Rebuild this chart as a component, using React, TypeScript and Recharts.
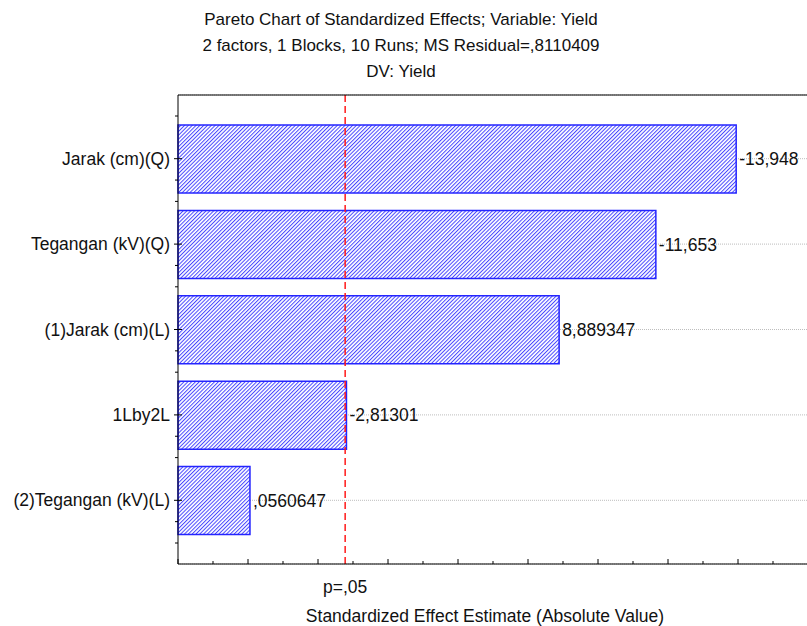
import React from "react";
import {
  Bar,
  BarChart,
  CartesianGrid,
  LabelList,
  ReferenceLine,
  XAxis,
  YAxis,
} from "recharts";

const factors = [
  "Jarak (cm)(Q)",
  "Tegangan (kV)(Q)",
  "(1)Jarak (cm)(L)",
  "1Lby2L",
  "(2)Tegangan (kV)(L)",
];
const effects = [-13.948, -11.653, 8.889347, -2.81301, 0.0560647];
const effectLabels = ["-13,948", "-11,653", "8,889347", "-2,81301", ",0560647"];
const xTicks = [-2, -1, 0, 1, 2, 3, 4, 5, 6, 7, 8, 9, 10, 11, 12, 13, 14, 15, 16];
const axisMin = -2;
const axisMax = 16;
const pCritical = 2.776;
const pLabel = "p=,05";
const titleLines = [
  "Pareto Chart of Standardized Effects; Variable: Yield",
  "2 factors, 1 Blocks, 10 Runs; MS Residual=,8110409",
  "DV: Yield",
];
const xTitle = "Standardized Effect Estimate (Absolute Value)";

const FONT = "'Liberation Sans', Arial, sans-serif";
const BLUE = "#2424ff";
const HATCH = "#4646ff";
const FS = 17.5;

const data = factors.map((name, i) => ({
  name,
  range: [axisMin, Math.abs(effects[i])],
  label: effectLabels[i],
}));

const XTick = (props: any) => {
  const { x, y, payload, orientation } = props;
  const len = payload.value % 2 === 0 ? 5 : 3;
  const dir = orientation === "top" ? 1 : -1;
  return <line x1={x} x2={x} y1={y} y2={y + dir * len} stroke="#000" strokeWidth={1} />;
};

const YTick = (props: any) => {
  const { x, y, payload, index } = props;
  const half = 42.7;
  const offs = [-half, half / 2];
  if (index === factors.length - 1) offs.push(half);
  return (
    <g>
      <line x1={x - 4} x2={x + 4} y1={y} y2={y} stroke="#000" />
      {offs.map((o) => (
        <line key={o} x1={x - 3} x2={x} y1={y + o} y2={y + o} stroke="#000" />
      ))}
      <text
        x={x - 8}
        y={y}
        textAnchor="end"
        dominantBaseline="central"
        fontSize={FS}
        fontFamily={FONT}
        fill="#111"
      >
        {payload.value}
      </text>
    </g>
  );
};

const RightTick = (props: any) => {
  const { x, y } = props;
  return <line x1={x - 4} x2={x} y1={y} y2={y} stroke="#000" />;
};

export default function App() {
  return (
    <div
      style={{
        position: "absolute",
        left: 0,
        top: 0,
        width: 807,
        height: 626,
        overflow: "hidden",
        background: "#fff",
      }}
    >
      <BarChart
        width={808}
        height={626}
        data={data}
        layout="vertical"
        margin={{ top: 94, right: 0, bottom: 61, left: 0 }}
      >
        <defs>
          <pattern
            id="hatch"
            width={2.7}
            height={2.7}
            patternUnits="userSpaceOnUse"
            patternTransform="rotate(45)"
          >
            <rect width={2.7} height={2.7} fill="#fff" />
            <rect width={1} height={2.7} fill={HATCH} />
          </pattern>
        </defs>
        <CartesianGrid
          horizontal
          vertical={false}
          stroke="#bdbdbd"
          strokeDasharray="1 1"
        />
        <XAxis
          type="number"
          domain={[axisMin, axisMax]}
          ticks={xTicks}
          interval={0}
          height={1}
          tickSize={0}
          tickMargin={0}
          tick={<XTick orientation="bottom" />}
          axisLine={{ stroke: "#000" }}
          tickLine={false}
        />
        <XAxis
          xAxisId="top"
          orientation="top"
          type="number"
          domain={[axisMin, axisMax]}
          ticks={xTicks}
          interval={0}
          height={1}
          tickSize={0}
          tickMargin={0}
          tick={<XTick orientation="top" />}
          axisLine={{ stroke: "#000" }}
          tickLine={false}
        />
        <YAxis
          type="category"
          dataKey="name"
          width={178}
          padding={{ top: 21, bottom: 21 }}
          tickSize={0}
          tickMargin={0}
          interval={0}
          tick={<YTick />}
          axisLine={{ stroke: "#000" }}
          tickLine={false}
        />
        <YAxis
          yAxisId="right"
          orientation="right"
          type="category"
          dataKey="name"
          width={0}
          padding={{ top: 21, bottom: 21 }}
          tickSize={0}
          tickMargin={0}
          interval={0}
          tick={<RightTick />}
          axisLine={false}
          tickLine={false}
        />
        <Bar
          dataKey="range"
          barSize={68}
          fill="url(#hatch)"
          stroke={BLUE}
          strokeWidth={1.5}
          isAnimationActive={false}
        >
          <LabelList
            dataKey="label"
            position="right"
            offset={3}
            fill="#111"
            fontSize={FS}
            fontFamily={FONT}
          />
        </Bar>
        <ReferenceLine
          x={pCritical}
          stroke="#ff1a1a"
          strokeWidth={1.5}
          strokeDasharray="7 4"
          label={{
            value: pLabel,
            position: "bottom",
            offset: 17,
            fill: "#111",
            fontSize: FS,
            fontFamily: FONT,
          }}
        />
      </BarChart>
      <svg
        width={807}
        height={626}
        style={{ position: "absolute", left: 0, top: 0, pointerEvents: "none" }}
      >
        {titleLines.map((t, i) => (
          <text
            key={t}
            x={401}
            y={25 + i * 26}
            textAnchor="middle"
            fontSize={17}
            fontFamily={FONT}
            fill="#111"
          >
            {t}
          </text>
        ))}
        <text x={485} y={622} textAnchor="middle" fontSize={FS} fontFamily={FONT} fill="#111">
          {xTitle}
        </text>
      </svg>
    </div>
  );
}
